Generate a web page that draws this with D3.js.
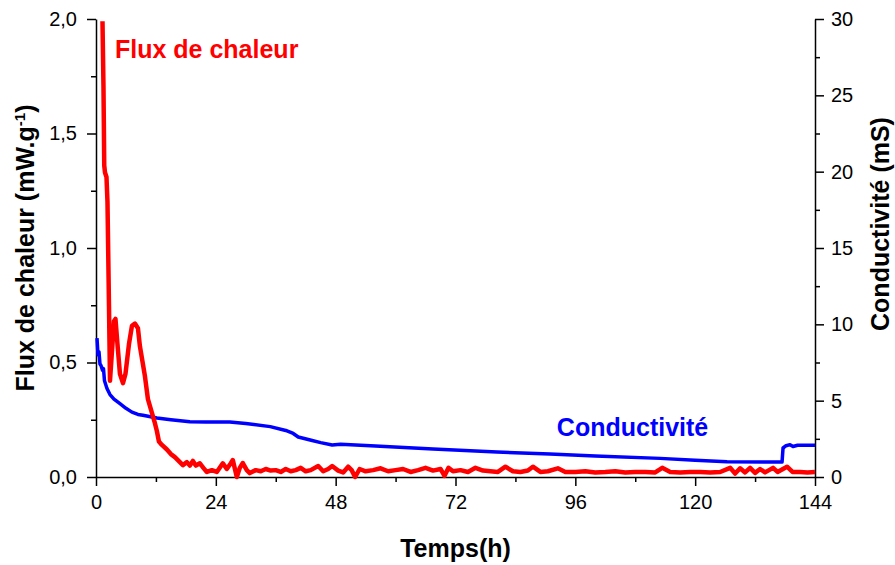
<!DOCTYPE html>
<html lang="fr">
<head>
<meta charset="UTF-8">
<title>Flux de chaleur et conductivité</title>
<script src="https://d3js.org/d3.v7.min.js"></script>
<style>
    body { margin: 0; background: #fff; }
    svg text { font-family: "Liberation Sans", Arial, sans-serif; }
    .tick text { font-size: 20px; fill: #000; }
    .axis path, .axis line { stroke: #000; stroke-width: 1.5px; }
    .title { font-size: 25px; font-weight: bold; }
</style>
</head>
<body>
<svg id="chart" width="895" height="565"></svg>
<script>
// heat flux (mW.g-1) vs time (h)
const heatTime = [1.3, 1.5, 1.65, 1.8, 2.1, 2.3, 2.6, 2.8, 3.2, 3.6, 3.9, 4.3, 4.8, 5.4, 5.9, 6.6, 7.2, 7.8, 8.4, 8.8, 9.8, 10.4, 11.2, 11.8, 12.2, 12.6, 13.2, 14.2, 15.0, 15.8, 16.8, 17.4, 18.2, 18.8, 19.4, 20.0, 20.8, 21.5, 22.2, 23.2, 24.2, 25.4, 26.2, 27.0, 27.4, 28.2, 28.8, 29.4, 30.2, 30.8, 32, 33, 34, 35, 36, 37, 38, 39, 40, 41, 42, 43, 44.5, 45.5, 46.5, 47.3, 48.5, 49.5, 50.5, 51.2, 51.9, 52.8, 54, 55.5, 57, 58.5, 60, 61.5, 63, 64.5, 66, 67.5, 69, 69.8, 70.6, 71.5, 73, 74.5, 76, 77.5, 79, 80.5, 82, 83.5, 85, 86.5, 87.5, 89, 90.5, 92.5, 94, 96, 98, 100, 102, 104, 106, 108, 110, 112, 113.4, 115, 117, 119, 121, 123, 125, 127, 128, 129, 130, 131, 132, 133, 134, 135.6, 136.5, 138.4, 139.5, 141, 142.5, 144];
const heatFlux = [1.99, 1.70, 1.36, 1.33, 1.31, 1.20, 0.75, 0.42, 0.55, 0.68, 0.69, 0.58, 0.45, 0.41, 0.45, 0.58, 0.66, 0.67, 0.65, 0.57, 0.44, 0.34, 0.28, 0.235, 0.2, 0.155, 0.14, 0.12, 0.10, 0.087, 0.065, 0.052, 0.065, 0.05, 0.07, 0.05, 0.06, 0.04, 0.022, 0.03, 0.022, 0.06, 0.035, 0.06, 0.074, 0.0, 0.04, 0.061, 0.03, 0.017, 0.03, 0.025, 0.035, 0.028, 0.03, 0.022, 0.035, 0.025, 0.03, 0.04, 0.025, 0.03, 0.048, 0.025, 0.035, 0.048, 0.028, 0.02, 0.045, 0.03, 0.0, 0.035, 0.025, 0.03, 0.038, 0.025, 0.03, 0.035, 0.022, 0.03, 0.04, 0.028, 0.035, 0.005, 0.04, 0.025, 0.03, 0.022, 0.04, 0.028, 0.025, 0.022, 0.045, 0.025, 0.022, 0.028, 0.045, 0.022, 0.025, 0.038, 0.022, 0.022, 0.025, 0.02, 0.022, 0.025, 0.02, 0.022, 0.022, 0.02, 0.04, 0.022, 0.02, 0.022, 0.022, 0.02, 0.022, 0.04, 0.015, 0.038, 0.02, 0.04, 0.018, 0.035, 0.02, 0.04, 0.022, 0.045, 0.022, 0.022, 0.02, 0.022];

// conductivity (mS) vs time (h)
const condTime = [0.2, 0.4, 0.6, 0.8, 1.0, 1.3, 1.5, 1.7, 2.2, 2.8, 3.6, 4.8, 6.0, 7.2, 8.4, 9.4, 12.2, 15, 18.8, 22, 26.8, 30, 34.9, 38, 39.5, 40.5, 42.9, 45, 47.3, 49, 55, 67.5, 80.3, 90.9, 100, 113, 120, 126.4, 137.4, 137.6, 138.2, 139, 139.6, 140.5, 144];
const condValue = [9.1, 8.0, 8.2, 7.4, 7.3, 7.0, 7.1, 6.3, 5.8, 5.4, 5.1, 4.8, 4.5, 4.25, 4.1, 4.05, 3.86, 3.75, 3.62, 3.6, 3.6, 3.5, 3.3, 3.05, 2.85, 2.62, 2.42, 2.25, 2.1, 2.15, 2.05, 1.84, 1.63, 1.5, 1.38, 1.22, 1.1, 1.0, 0.98, 1.9, 2.05, 2.12, 2.0, 2.08, 2.08];

const timeTicks = [0, 24, 48, 72, 96, 120, 144];
const fluxTicks = [0, 0.5, 1.0, 1.5, 2.0];
const condTicks = [0, 5, 10, 15, 20, 25, 30];

const margin = {left: 96, right: 80, top: 19, bottom: 88};
const W = 895, H = 565;
const svg = d3.select("#chart");

const x = d3.scaleLinear().domain([0, 144]).range([margin.left, W - margin.right]);
const yL = d3.scaleLinear().domain([0, 2]).range([H - margin.bottom, margin.top]);
const yR = d3.scaleLinear().domain([0, 30]).range([H - margin.bottom, margin.top]);

const comma = d3.format(".1f");
const fmtFlux = d => comma(d).replace(".", ",");

// minor ticks first
svg.append("g").attr("class", "axis")
    .attr("transform", `translate(0,${H - margin.bottom})`)
    .call(d3.axisBottom(x).tickValues(d3.range(12, 144, 24)).tickSize(5).tickFormat(""))
    .select(".domain").remove();
svg.append("g").attr("class", "axis")
    .attr("transform", `translate(${margin.left},0)`)
    .call(d3.axisLeft(yL).tickValues(d3.range(0.25, 2, 0.5)).tickSize(5).tickFormat(""))
    .select(".domain").remove();
svg.append("g").attr("class", "axis")
    .attr("transform", `translate(${W - margin.right},0)`)
    .call(d3.axisRight(yR).tickValues(d3.range(2.5, 30, 5)).tickSize(5).tickFormat(""))
    .select(".domain").remove();

// major axes
svg.append("g").attr("class", "axis")
    .attr("transform", `translate(0,${H - margin.bottom})`)
    .call(d3.axisBottom(x).tickValues(timeTicks).tickSizeInner(9).tickSizeOuter(0).tickPadding(9));
svg.append("g").attr("class", "axis")
    .attr("transform", `translate(${margin.left},0)`)
    .call(d3.axisLeft(yL).tickValues(fluxTicks).tickFormat(fmtFlux).tickSizeInner(9).tickSizeOuter(0).tickPadding(10));
svg.append("g").attr("class", "axis")
    .attr("transform", `translate(${W - margin.right},0)`)
    .call(d3.axisRight(yR).tickValues(condTicks).tickSizeInner(9).tickSizeOuter(0).tickPadding(7));

// conductivity line
svg.append("path")
    .datum(condTime.map((t, i) => [t, condValue[i]]))
    .attr("fill", "none")
    .attr("stroke", "#0000ff")
    .attr("stroke-width", 3.5)
    .attr("stroke-linejoin", "round")
    .attr("d", d3.line().x(d => x(d[0])).y(d => yR(d[1])));

// heat flux line
svg.append("path")
    .datum(heatTime.map((t, i) => [t, heatFlux[i]]))
    .attr("fill", "none")
    .attr("stroke", "#ff0000")
    .attr("stroke-width", 4.5)
    .attr("stroke-linejoin", "round")
    .attr("d", d3.line().x(d => x(d[0])).y(d => yL(d[1])));

// series labels
svg.append("text")
    .attr("x", x(3.8)).attr("y", yL(1.83))
    .attr("fill", "#ff0000").attr("font-size", 25).attr("font-weight", "bold")
    .text("Flux de chaleur");
svg.append("text")
    .attr("x", x(92.3)).attr("y", yR(2.7))
    .attr("fill", "#0000ff").attr("font-size", 25).attr("font-weight", "bold")
    .text("Conductivité");

// axis titles
svg.append("text").attr("class", "title")
    .attr("x", (margin.left + W - margin.right) / 2).attr("y", 557)
    .attr("text-anchor", "middle")
    .text("Temps(h)");

const lt = svg.append("text").attr("class", "title")
    .attr("text-anchor", "middle")
    .attr("transform", `translate(34,${(H - margin.bottom + margin.top) / 2}) rotate(-90)`);
lt.append("tspan").text("Flux de chaleur (mW.g");
lt.append("tspan").attr("dy", -9).attr("font-size", 15).text("-1");
lt.append("tspan").attr("dy", 9).text(")");

svg.append("text").attr("class", "title")
    .attr("text-anchor", "middle")
    .attr("transform", `translate(889,224) rotate(-90)`)
    .text("Conductivité (mS)");
</script>
</body>
</html>
